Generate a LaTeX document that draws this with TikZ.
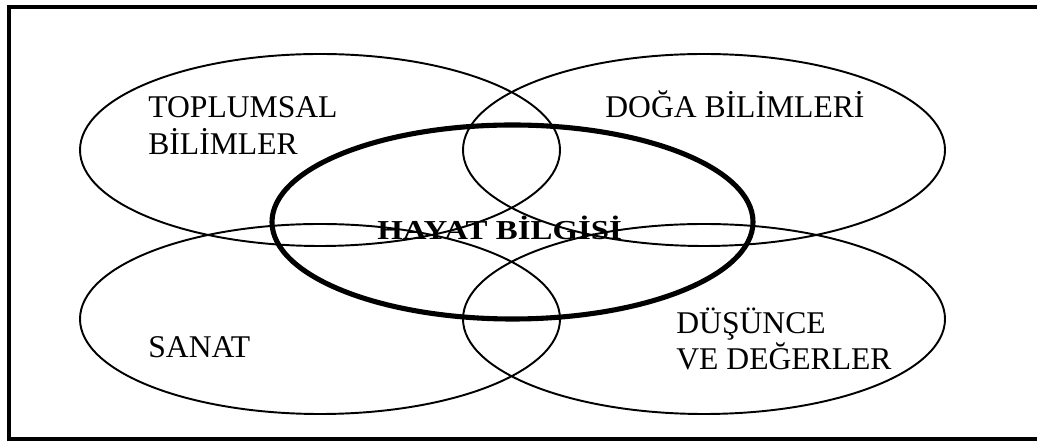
\documentclass[tikz,border=0pt]{standalone}
\usepackage{fontspec}
\setmainfont{Liberation Serif}
\usepackage{graphicx}
\usepackage{tikz}

\begin{document}
\begin{tikzpicture}[x=0.02cm, y=0.02cm,
	field/.style={line width=1.1pt},
	core/.style={line width=2.9pt},
	fieldtext/.style={anchor=base west, inner sep=0pt, font=\fontsize{18}{21}\selectfont},
	coretext/.style={anchor=base west, inner sep=0pt, font=\fontsize{15.6}{18}\selectfont\bfseries}]
	\useasboundingbox (0,0) rectangle (1037,442);
	\draw[line width=2.3pt] (1042,435.3) -- (8.7,435.3) -- (8.7,3.3) -- (1042,3.3);
	\draw[field] (320,292) ellipse (240 and 96);
	\draw[field] (704,292) ellipse (241 and 96);
	\draw[field] (320,123) ellipse (240 and 95);
	\draw[field] (704,123) ellipse (241 and 95);
	\draw[core] (512.5,220) ellipse (240.5 and 97);
	\node[fieldtext] (toplumsal) at (148,324) {TOPLUMSAL};
	\node[fieldtext] (bilimler) at (148,287) {BİLİMLER};
	\node[fieldtext] (doga) at (605,324) {DOĞA BİLİMLERİ};
	\node[fieldtext] (sanat) at (148,84) {SANAT};
	\node[fieldtext] (dusunce) at (676,108) {DÜŞÜNCE};
	\node[fieldtext] (degerler) at (676,72) {VE DEĞERLER};
	\node[coretext] (hayat) at (377,202) {\scalebox{1.2}[1]{HAYAT BİLGİSİ}};
\end{tikzpicture}
\end{document}
